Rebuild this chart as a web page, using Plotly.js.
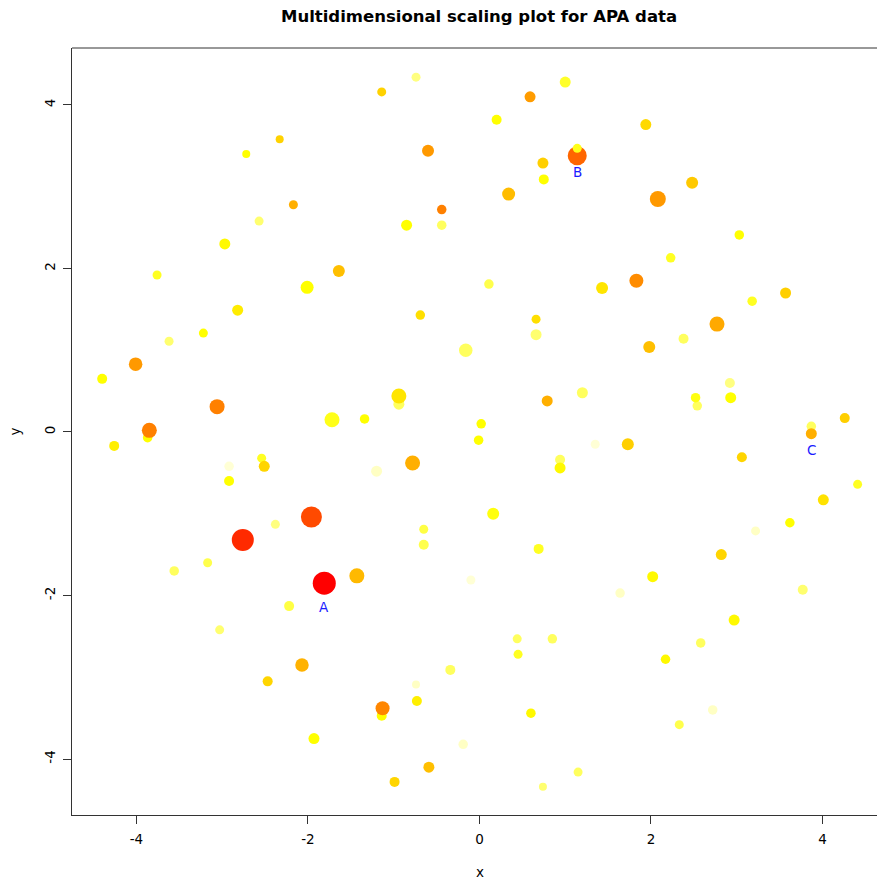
<!DOCTYPE html>
<html>
<head>
<meta charset="utf-8">
<script src="https://cdn.plot.ly/plotly-3.0.1.min.js"></script>
<style>html,body{margin:0;padding:0;background:#fff;}#chart{width:877px;height:880px;}</style>
</head>
<body>
<div id="chart"></div>
<script>
// MDS coordinates (dimension 1 and 2)
const mdsX = [-0.74,1.00,-1.14,0.59,0.20,1.94,-2.33,-2.72,-0.60,1.14,1.14,0.74,0.75,2.48,0.34,2.08,-2.17,-0.44,-0.85,-0.44,
  -2.57,3.03,-2.97,2.23,-1.64,-3.76,-2.01,0.11,1.43,1.83,3.57,3.18,-2.82,-0.69,0.66,2.77,-3.22,-3.62,0.66,2.38,
  1.98,-0.16,-4.01,-4.40,2.92,-0.94,-0.94,1.20,2.54,2.52,2.93,-3.06,0.79,-1.72,-1.34,0.02,4.26,3.87,3.87,-3.87,
  -3.85,-4.26,-0.01,1.73,1.35,-2.54,-2.51,-2.92,-0.78,0.94,0.94,-1.20,3.06,-2.92,4.01,4.41,-1.96,0.16,-2.38,-0.65,
  3.62,3.22,-2.76,-0.65,0.69,2.82,-3.17,-3.56,-1.43,2.02,-0.10,-1.81,3.77,1.64,-2.22,-3.03,2.97,0.44,0.85,0.45,
  2.58,-2.07,-0.34,2.17,-2.47,-0.74,-0.73,-1.14,-1.13,2.72,0.60,2.33,-1.93,-0.19,-0.59,1.15,-0.99,0.74];
const mdsY = [4.34,4.28,4.16,4.10,3.82,3.76,3.58,3.40,3.44,3.38,3.47,3.29,3.09,3.05,2.91,2.85,2.78,2.72,2.53,2.53,
  2.58,2.41,2.30,2.13,1.97,1.92,1.77,1.81,1.76,1.85,1.70,1.60,1.49,1.43,1.38,1.32,1.21,1.11,1.19,1.14,
  1.04,1.00,0.83,0.65,0.60,0.34,0.44,0.48,0.32,0.42,0.42,0.31,0.38,0.15,0.16,0.10,0.17,0.07,-0.02,-0.07,
  0.02,-0.17,-0.10,-0.15,-0.15,-0.32,-0.42,-0.42,-0.38,-0.34,-0.44,-0.48,-0.31,-0.60,-0.83,-0.64,-1.04,-1.00,-1.13,-1.19,
  -1.11,-1.21,-1.32,-1.38,-1.43,-1.50,-1.60,-1.70,-1.76,-1.77,-1.81,-1.85,-1.93,-1.97,-2.13,-2.42,-2.30,-2.53,-2.53,-2.72,
  -2.58,-2.85,-2.91,-2.78,-3.05,-3.09,-3.29,-3.47,-3.38,-3.40,-3.44,-3.58,-3.75,-3.82,-4.10,-4.16,-4.28,-4.34];
// colour level (1 = red ... 12 = palest yellow, heat colours)
const level = [11,10,7.6,5.9,9,7.8,7.6,9,5.8,4.2,9.6,7.5,9,7.3,6.9,5.8,6.5,5.0,9,10.6,
  10.8,9,8.8,9.8,7,9.8,9,10.4,8.2,5.4,7.5,9.8,8.4,8,8,6.3,9,10.8,10.8,10.6,
  7,10.6,5.8,9,11,10.6,8.2,10.6,10.6,9.4,9,5,6.5,9.6,9,9,7.5,10.6,6.5,9,
  5,8.5,9,7.5,12,9.8,7.7,12,6.5,10.6,8.8,11.8,7.7,9,8.1,9.8,3.3,9.3,11,10.3,
  9,11.8,2.3,10.4,9.8,7.7,10.4,10.6,6.8,8.8,12,1,10.8,11.8,10.3,10.8,8.8,10.6,10.6,9.8,
  10.6,6.6,10.6,8.8,7.7,11.8,8.5,9,5.2,11.8,8.8,10.4,9,11.8,7,10.6,7.7,10.8];
// point expansion factor (cex)
const pointCex = [0.9,1.1,0.9,1.1,1.0,1.1,0.8,0.8,1.2,1.9,0.9,1.1,1.0,1.2,1.3,1.6,0.9,0.95,1.1,0.95,
  0.9,0.95,1.1,0.95,1.2,0.9,1.3,0.95,1.2,1.4,1.1,0.95,1.1,0.95,0.9,1.5,0.9,0.9,1.1,1.0,
  1.2,1.35,1.35,1.0,1.0,1.1,1.5,1.1,0.95,0.95,1.1,1.5,1.1,1.5,0.95,0.95,1.0,0.95,1.1,0.95,
  1.5,1.0,0.95,1.2,0.9,0.9,1.1,0.95,1.5,1.0,1.1,1.1,1.0,1.0,1.1,0.9,2.1,1.2,0.9,0.9,
  0.95,0.9,2.2,1.0,1.0,1.1,0.9,0.95,1.5,1.1,0.9,2.3,1.0,0.95,1.0,0.9,1.1,0.9,0.95,0.9,
  0.95,1.35,1.0,0.95,1.0,0.8,1.0,1.0,1.4,0.95,0.95,0.9,1.1,0.95,1.1,0.9,1.0,0.8];
const labelNames = ['A','B','C'];
const labelAt = [91, 9, 58];
const labelShift = [-24, -16, -16];
const xTicks = [-4,-2,0,2,4];
const yTicks = [-4,-2,0,2,4];
const tickText = ['-4','-2','0','2','4'];

const heat = ['#FF0000','#FF2000','#FF4000','#FF6000','#FF8000','#FF9F00','#FFBF00','#FFDF00','#FFFF00','#FFFF2A','#FFFF80','#FFFFD5'];
const colorscale = heat.map((c,i)=>[i/(heat.length-1), c]);
const font = 'DejaVu Sans, Arial, sans-serif';

const trace = {
  type:'scatter', mode:'markers', x: mdsX, y: mdsY, hoverinfo:'skip',
  marker:{size: pointCex, sizemode:'diameter', sizeref:0.1, color: level, colorscale: colorscale,
    cmin:1, cmax:12, showscale:false, line:{width:0}, opacity:1}
};

const annotations = labelNames.map((t,i)=>({
  x: mdsX[labelAt[i]], y: mdsY[labelAt[i]], xref:'x', yref:'y', text:t, showarrow:false,
  yshift: labelShift[i], font:{family:font, size:13.5, color:'#1a1aff'}
}));
annotations.push({text:'x', xref:'paper', yref:'paper', x:(480-72)/805, y:0, yshift:-57, showarrow:false,
  xanchor:'center', yanchor:'middle', font:{family:font, size:13.5, color:'#000'}});
annotations.push({text:'y', xref:'paper', yref:'paper', x:-(72-14)/805, y:0.5, showarrow:false, textangle:-90,
  xanchor:'center', yanchor:'middle', font:{family:font, size:13.5, color:'#000'}});

const axisCommon = {
  showgrid:false, zeroline:false, showline:true, linecolor:'#333', linewidth:1,
  ticks:'outside', ticklen:8, tickcolor:'#333', tickwidth:1,
  tickfont:{family:font, size:13.5, color:'#000'}, tickmode:'array', ticktext: tickText
};

const layout = {
  width:877, height:880, paper_bgcolor:'#fff', plot_bgcolor:'#fff',
  margin:{l:72, r:0, t:48, b:65},
  showlegend:false,
  title:{text:'<b>Multidimensional scaling plot for APA data</b>', font:{family:font, size:16.5, color:'#000'},
    xref:'paper', x:0.5056, xanchor:'center', yref:'container', y:1-16/880, yanchor:'middle'},
  xaxis:Object.assign({}, axisCommon, {range:[-4.752,4.636], tickvals:xTicks, ticklabelstandoff:4}),
  yaxis:Object.assign({}, axisCommon, {range:[-4.685,4.697], tickvals:yTicks, tickangle:-90, ticklabelstandoff:3}),
  shapes:[{type:'line', xref:'paper', yref:'paper', x0:0, x1:1.05, y0:1, y1:1, line:{color:'#333', width:1}}],
  annotations: annotations
};

Plotly.newPlot('chart', [trace], layout, {displayModeBar:false, staticPlot:true});
</script>
</body>
</html>
